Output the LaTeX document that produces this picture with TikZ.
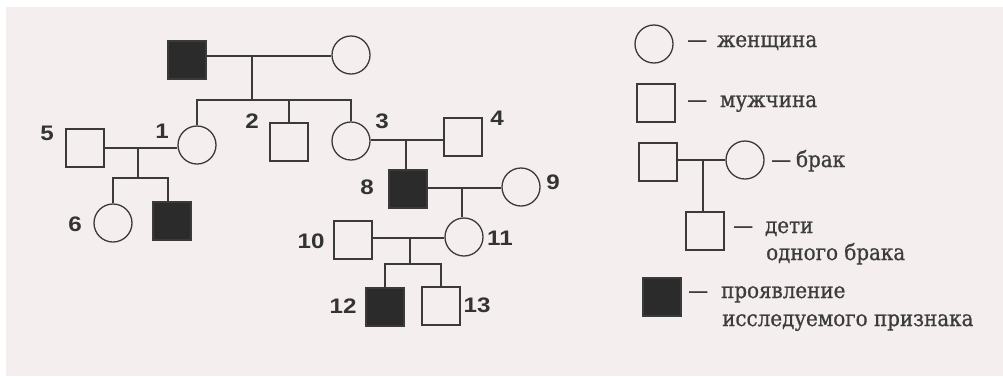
\documentclass[tikz,border=0pt]{standalone}
\usepackage{fontspec}
\setmainfont{DejaVu Serif}
\newfontfamily\legfont{DejaVu Serif Condensed}[FakeBold=0.8]
\newfontfamily\numfont{Liberation Sans}[FakeStretch=1.15]
\begin{document}
\begin{tikzpicture}[x=1pt,y=-1pt,
  ln/.style={line width=1.3pt, draw=linec},
  male/.style={ln, rectangle, minimum size=38pt, inner sep=0pt, fill=bgc},
  female/.style={ln, circle, minimum size=38pt, inner sep=0pt, fill=bgc},
  aff/.style={male, fill=fillc},
  num/.style={font=\numfont\bfseries\fontsize{21}{21}\selectfont, text=numc, inner sep=0pt},
  leg/.style={font=\legfont\fontsize{22.1}{29}\selectfont, text=legc, inner sep=0pt, anchor=base west}
]
\definecolor{bgc}{HTML}{F5EEEE}
\definecolor{linec}{HTML}{3A3A3A}
\definecolor{fillc}{HTML}{2B2B2B}
\definecolor{numc}{HTML}{333333}
\definecolor{legc}{HTML}{3C3C3C}
\useasboundingbox (0,0) rectangle (1003,376);
\fill[white] (0,0) rectangle (1003,376);
\fill[bgc] (6,7) rectangle (1003,376);

% generation I
\node[aff] (gf) at (187,60) {};
\node[female] (gm) at (351,55) {};
\coordinate (m0) at (252,56);
\draw[ln] (gf.east |- m0) -- (gm.west |- m0);
\coordinate (s0) at (252,100);
% generation II
\node[female] (p1) at (197,145) {};
\node[male] (p2) at (289,142) {};
\node[female] (p3) at (351,141) {};
\node[male] (p4) at (463,137) {};
\node[male] (p5) at (85,148) {};
\draw[ln] (m0) -- (s0);
\draw[ln] (p1.north) -- (p1.north |- s0) -- (p3.north |- s0) -- (p3.north);
\draw[ln] (p2.north) -- (p2.north |- s0);
% marriage 5-1
\coordinate (m51) at (138,148);
\draw[ln] (p5.east |- m51) -- (p1.west |- m51);
\coordinate (s51) at (138,178);
\node[female] (p6) at (113,223) {};
\node[aff] (p7) at (172,221) {};
\coordinate (d7) at (168,178);
\draw[ln] (m51) -- (s51);
\draw[ln] (p6.north) -- (p6.north |- s51) -- (d7) -- (d7 |- p7.north);
% marriage 3-4
\coordinate (m34) at (406,140);
\draw[ln] (p3.east |- m34) -- (p4.west |- m34);
\node[aff] (p8) at (408,189) {};
\draw[ln] (m34) -- (p8.north -| m34);
% marriage 8-9
\node[female] (p9) at (521,187) {};
\coordinate (m89) at (462,188);
\draw[ln] (p8.east |- m89) -- (p9.west |- m89);
\node[female] (p11) at (464,237) {};
\draw[ln] (m89) -- (p11.north -| m89);
% marriage 10-11
\node[male] (p10) at (353,240) {};
\coordinate (m1011) at (410,238);
\draw[ln] (p10.east |- m1011) -- (p11.west |- m1011);
\coordinate (s1011) at (410,264);
\node[aff] (p12) at (385,307) {};
\node[male] (p13) at (441,306) {};
\draw[ln] (m1011) -- (s1011);
\draw[ln] (p12.north) -- (p12.north |- s1011) -- (p13.north |- s1011) -- (p13.north);

% numbers
\node[num] (n5) at (47,133) {5};
\node[num] (n1) at (162,131) {1};
\node[num] (n2) at (252,121) {2};
\node[num] (n3) at (382,121) {3};
\node[num] (n4) at (497,118) {4};
\node[num] (n8) at (367,187) {8};
\node[num] (n9) at (553,182) {9};
\node[num] (n6) at (75,224) {6};
\node[num] (n10) at (311,241) {10};
\node[num] (n11) at (500,238) {11};
\node[num] (n12) at (343,306) {12};
\node[num] (n13) at (477,305) {13};

% legend
\node[female] (lf) at (654,44) {};
\node[leg] (tf) at (687,47) {—\hspace{10pt}женщина};
\node[male] (lm) at (656,103) {};
\node[leg] (tm) at (687,107) {—\hspace{13pt}мужчина};
\node[male] (lmm) at (658,162) {};
\node[female] (lmf) at (745,160) {};
\coordinate (lmc) at (703,160);
\draw[ln] (lmm.east |- lmc) -- (lmf.west |- lmc);
\node[leg] (tb) at (771,167) {—\hspace{5pt}брак};
\node[male] (lc) at (705,231) {};
\draw[ln] (lmc) -- (lc.north -| lmc);
\node[leg] (td) at (733,233) {—\hspace{12pt}дети};
\node[leg] (td2) at (766,260) {одного брака};
\node[aff] (la) at (662,297) {};
\node[leg] (ta) at (688,298) {—\hspace{13pt}проявление};
\node[leg] (ta2) at (722,326) {исследуемого признака};
\end{tikzpicture}
\end{document}
